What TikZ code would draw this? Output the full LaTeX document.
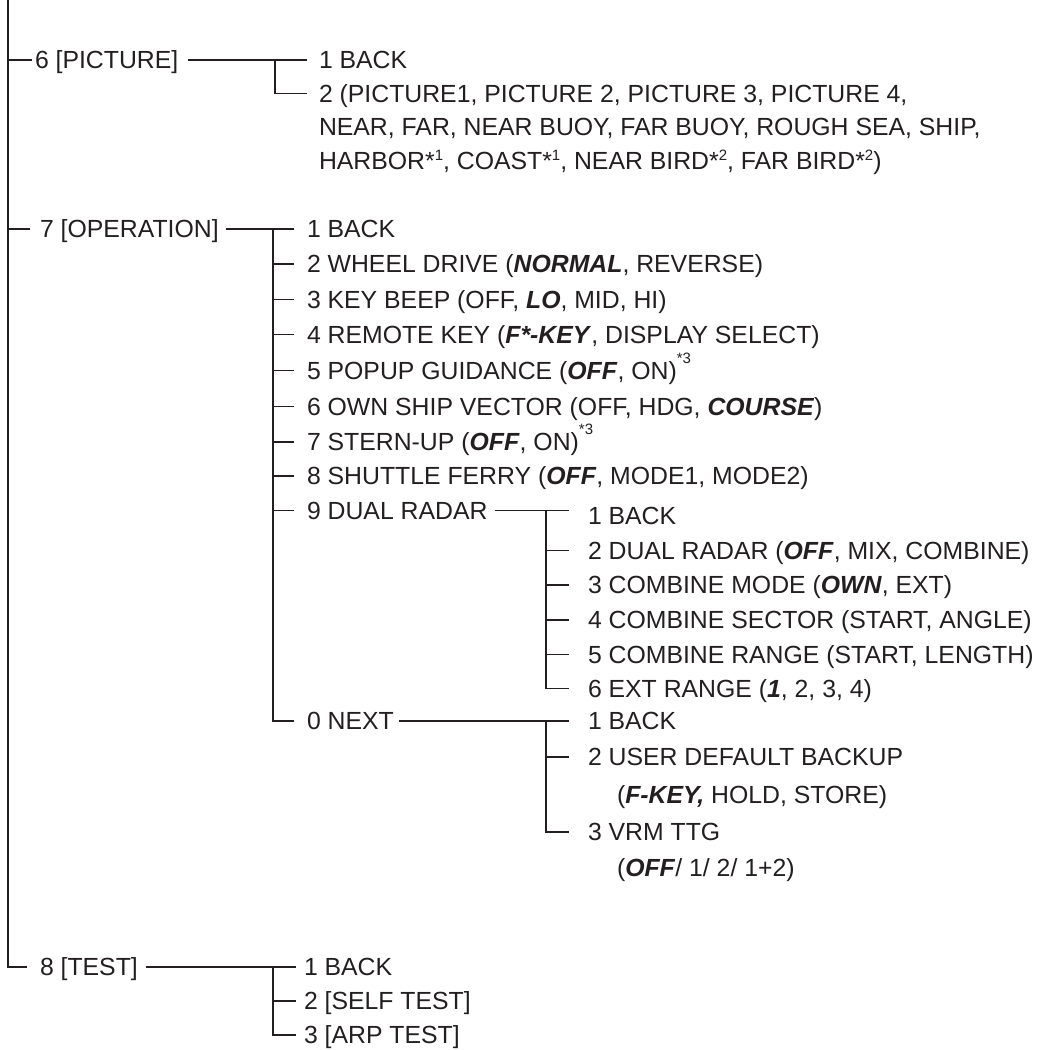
\documentclass[tikz,border=0pt]{standalone}
\usepackage{fontspec}
\setmainfont{Liberation Sans}
\usetikzlibrary{calc}
\definecolor{ink}{RGB}{35,31,32}
\newcommand{\myBI}[1]{\textbf{\textit{#1}}}
% note marks: a digit raised beside a normal asterisk, and a high raised "*n"
\newcommand{\mynote}[1]{\raisebox{9pt}{\fontsize{15}{15}\selectfont #1}}
\newcommand{\myhinote}[1]{\raisebox{16pt}{\fontsize{15}{15}\selectfont #1}}
\begin{document}
\begin{tikzpicture}[x=1pt,y=-1pt,
  lbl/.style={anchor=west,inner sep=0pt,outer sep=0pt,text height=17.75pt,text depth=0pt,
              font=\fontsize{24.8}{29}\selectfont,text=ink},
  tree/.style={draw=ink,line width=1.3pt},
  link/.style={draw=ink,line width=1.9pt}]
\useasboundingbox (0,0) rectangle (1037,1050);

% ---- 6 [PICTURE]
\node[lbl] (p6)  at (35,60)    {6 [PICTURE]};
\node[lbl] (p61) at (319,60)   {1 BACK};
\node[lbl] (p62) at (319,93.5) {2 (PICTURE1, PICTURE 2, PICTURE 3, PICTURE 4,};
\node[lbl] (p62b) at (319,127) {NEAR, FAR, NEAR BUOY, FAR BUOY, ROUGH SEA, SHIP,};
\node[lbl] (p62c) at (319,160.5) {HARBOR*\mynote{1}, COAST*\mynote{1}, NEAR BIRD*\mynote{2}, FAR BIRD*\mynote{2})};

% ---- 7 [OPERATION]
\node[lbl] (p7) at (40,229) {7 [OPERATION]};
\node[lbl] (o1) at (307,229)   {1 BACK};
\node[lbl] (o2) at (307,264.1) {2 WHEEL DRIVE (\myBI{NORMAL}, REVERSE)};
\node[lbl] (o3) at (307,299.2) {3 KEY BEEP (OFF, \myBI{LO}, MID, HI)};
\node[lbl] (o4) at (307,334.8) {4 REMOTE KEY (\myBI{F*-KEY}, DISPLAY SELECT)};
\node[lbl] (o5) at (307,370.5) {5 POPUP GUIDANCE (\myBI{OFF}, ON)\myhinote{*3}};
\node[lbl] (o6) at (307,406.5) {6 OWN SHIP VECTOR (OFF, HDG, \myBI{COURSE})};
\node[lbl] (o7) at (307,442)   {7 STERN-UP (\myBI{OFF}, ON)\myhinote{*3}};
\node[lbl] (o8) at (307,476)   {8 SHUTTLE FERRY (\myBI{OFF}, MODE1, MODE2)};
\node[lbl] (o9) at (307,510.5) {9 DUAL RADAR};
\node[lbl] (o0) at (307,721)   {0 NEXT};

% ---- dual radar sub menu
\node[lbl] (d1) at (588,516)   {1 BACK};
\node[lbl] (d2) at (588,550.5) {2 DUAL RADAR (\myBI{OFF}, MIX, COMBINE)};
\node[lbl] (d3) at (588,585)   {3 COMBINE MODE (\myBI{OWN}, EXT)};
\node[lbl] (d4) at (588,620)   {4 COMBINE SECTOR (START, ANGLE)};
\node[lbl] (d5) at (588,654.5) {5 COMBINE RANGE (START, LENGTH)};
\node[lbl] (d6) at (588,688.5) {6 EXT RANGE (\myBI{1}, 2, 3, 4)};

% ---- next sub menu
\node[lbl] (n1)  at (588,721) {1 BACK};
\node[lbl] (n2)  at (588,757) {2 USER DEFAULT BACKUP};
\node[lbl] (n2b) at (617,795) {(\myBI{F-KEY,} HOLD, STORE)};
\node[lbl] (n3)  at (588,832) {3 VRM TTG};
\node[lbl] (n3b) at (617,868) {(\myBI{OFF}/ 1/ 2/ 1+2)};

% ---- 8 [TEST]
\node[lbl] (t8) at (40,967)   {8 [TEST]};
\node[lbl] (t1) at (304,967)  {1 BACK};
\node[lbl] (t2) at (304,1001) {2 [SELF TEST]};
\node[lbl] (t3) at (304,1035) {3 [ARP TEST]};

% ---- main trunk
\draw[tree] (8,0) |- ($(t8.west)+(-13,0)$);
\draw[tree] (8,0 |- p6.west) -- ($(p6.west)+(-3,0)$);
\draw[tree] (8,0 |- p7.west) -- ($(p7.west)+(-10,0)$);

% ---- picture
\draw[link] ($(p6.east)+(10,0)$) -- ($(p61.west)+(-12,0)$);
\draw[tree] (275,0 |- p61.west) |- ($(p62.west)+(-12,0)$);

% ---- operation
\draw[link] ($(p7.east)+(7,0)$) -- ($(o1.west)+(-13,0)$);
\draw[tree] (273,0 |- o1.west) |- ($(o0.west)+(-13,0)$);
\foreach \n in {o2,o3,o4,o5,o6,o7,o8,o9}
  \draw[tree] (273,0 |- \n.west) -- ($(\n.west)+(-13,0)$);

% ---- dual radar
\draw[link] ($(o9.east)+(7,0)$) -- (569,0 |- o9.west);
\draw[tree] (546,0 |- o9.west) |- ($(d6.west)+(-19,0)$);
\foreach \n in {d2,d3,d4,d5}
  \draw[tree] (546,0 |- \n.west) -- ($(\n.west)+(-19,0)$);

% ---- next
\draw[link] ($(o0.east)+(5,0)$) -- ($(n1.west)+(-19,0)$);
\draw[tree] (546,0 |- n1.west) |- ($(n3.west)+(-19,0)$);
\draw[tree] (546,0 |- n2.west) -- ($(n2.west)+(-19,0)$);

% ---- test
\draw[link] ($(t8.east)+(8,0)$) -- ($(t1.west)+(-8,0)$);
\draw[tree] (273,0 |- t1.west) |- ($(t3.west)+(-8,0)$);
\draw[tree] (273,0 |- t2.west) -- ($(t2.west)+(-8,0)$);
\end{tikzpicture}
\end{document}
